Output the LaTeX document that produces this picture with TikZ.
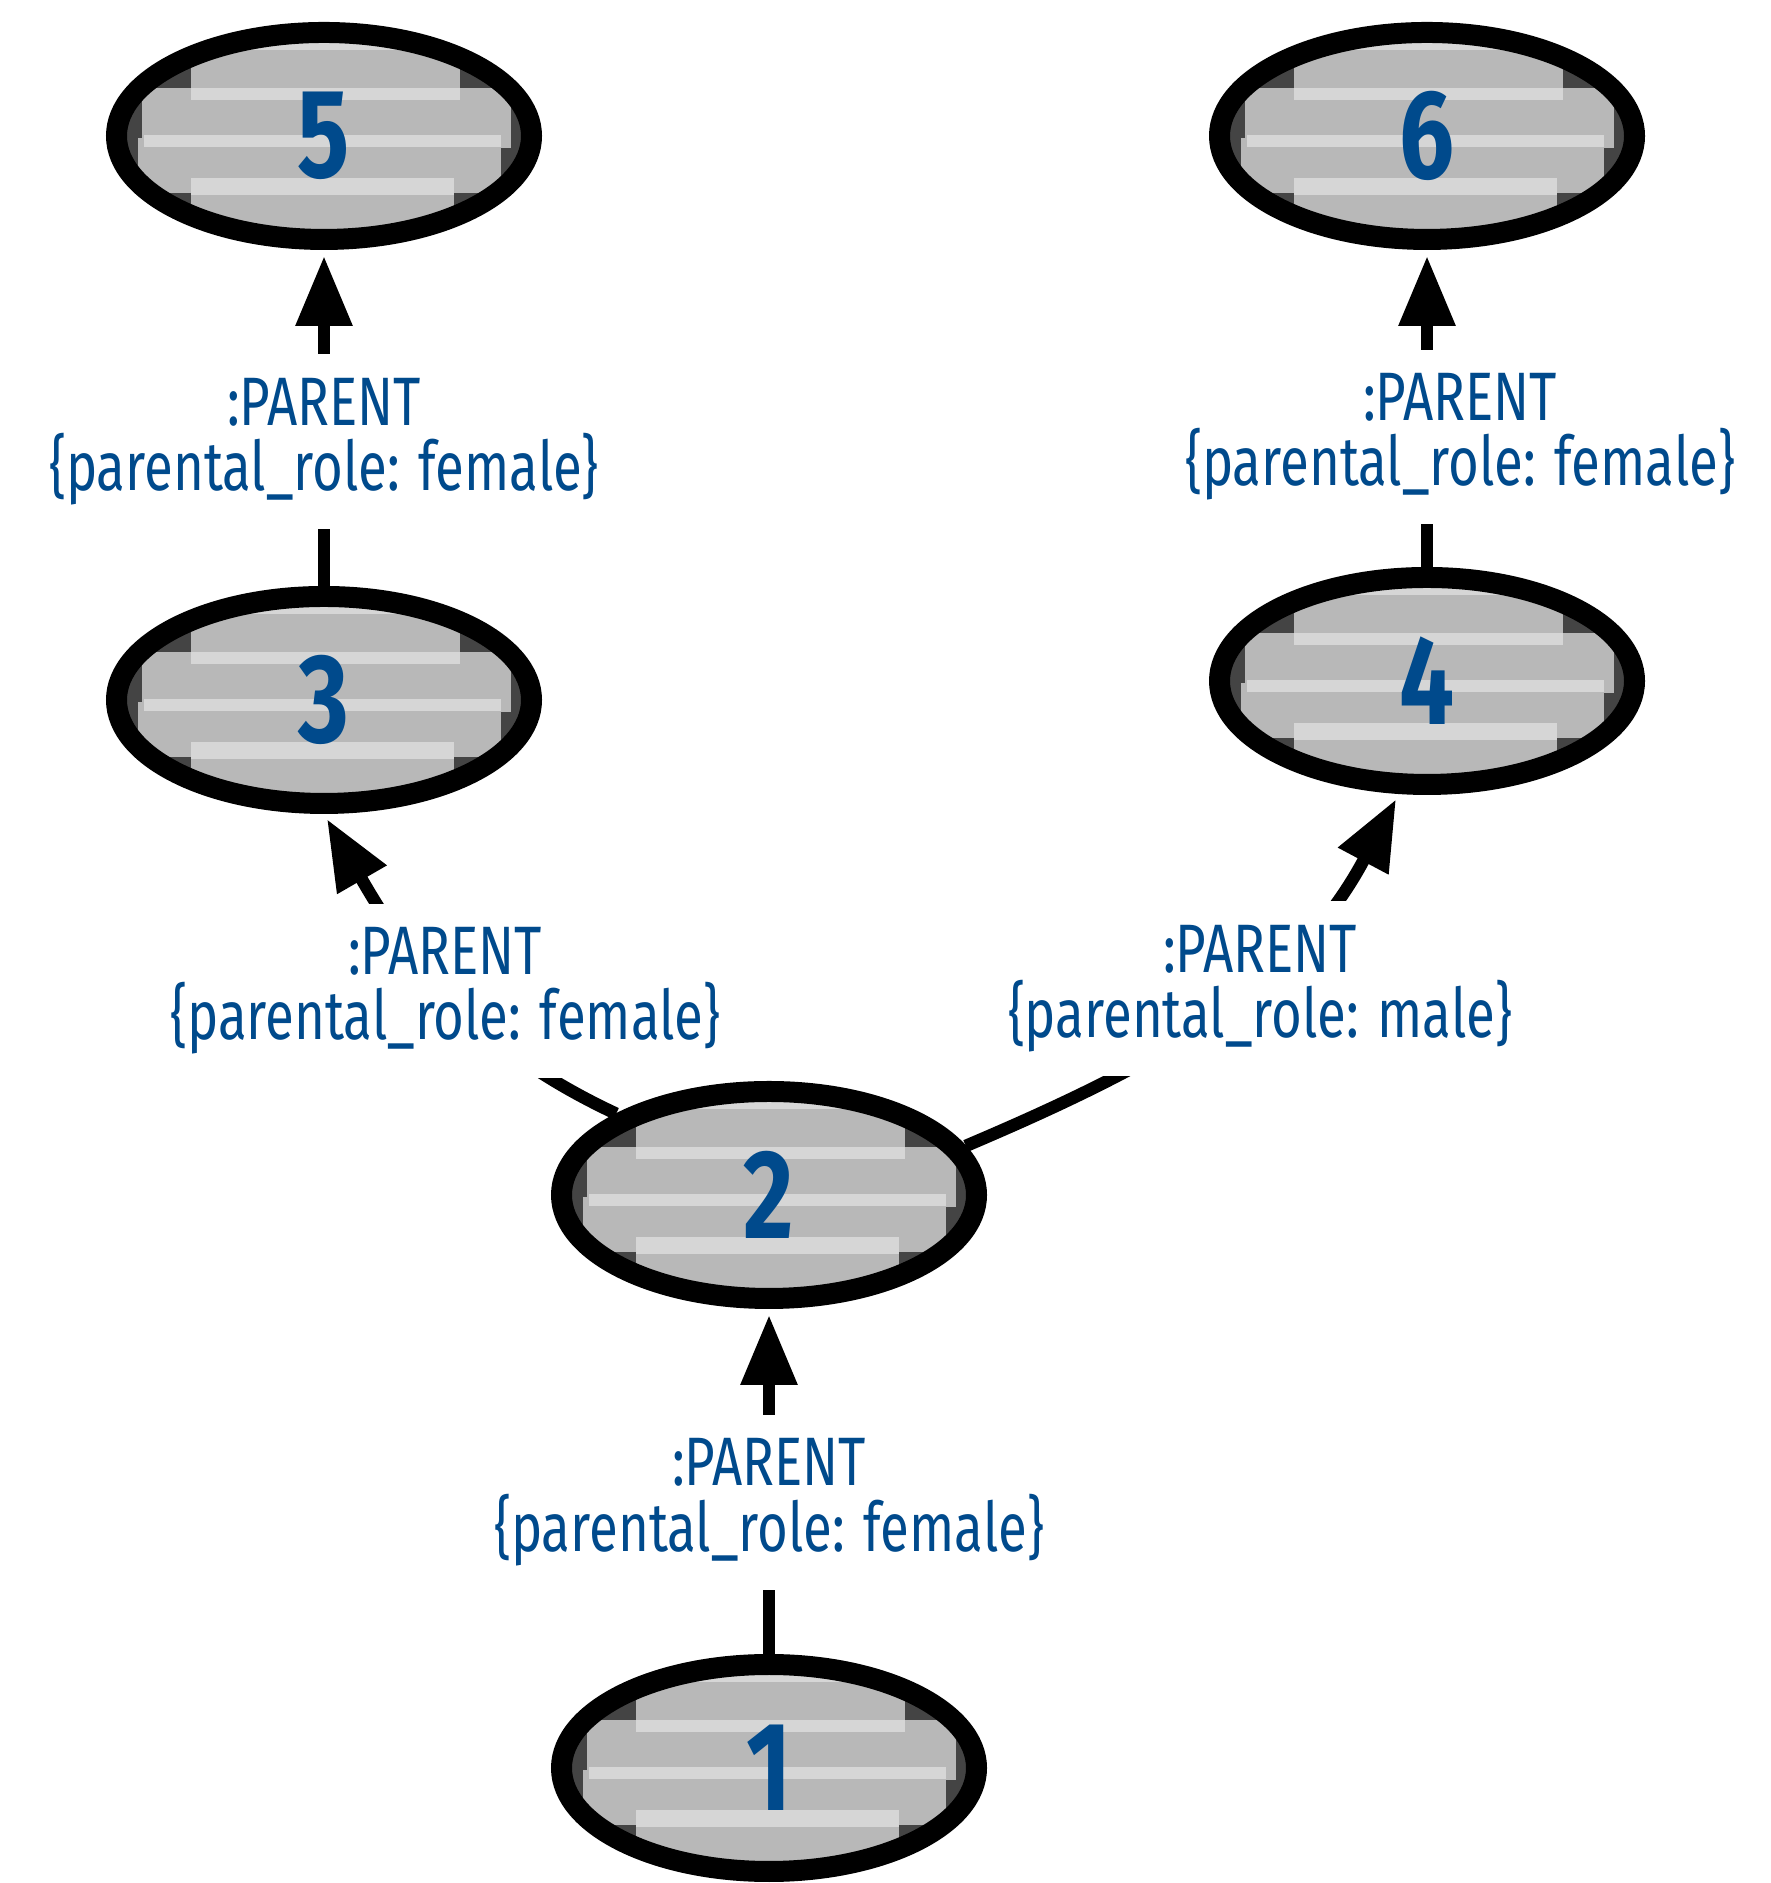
\documentclass[tikz,border=0pt]{standalone}
\usepackage{fontspec}
\setmainfont{Fira Sans}[FakeStretch=0.77]
\usetikzlibrary{shapes.geometric,arrows.meta,positioning,backgrounds}
\definecolor{nodeblue}{RGB}{0,74,140}
\definecolor{nodegray}{RGB}{184,184,184}
\definecolor{nodelight}{RGB}{214,214,214}
\definecolor{nodedark}{RGB}{68,68,68}

\begin{document}
\begin{tikzpicture}[on grid,
  main/.style = {draw, ellipse, line width=0.21cm, minimum width=4.15cm, minimum height=2.07cm,
    inner sep=0pt, text=nodeblue, font=\fontsize{36}{36}\selectfont\bfseries},
  rel/.style = {line width=0.125cm, -{Triangle[length=0.7cm,width=0.54cm]}, shorten >=0.06cm},
  lbl/.style = {fill=white, inner sep=0.24cm, align=center, text=nodeblue,
    font=\fontsize{19.5}{18.5}\selectfont}]
\useasboundingbox (0,0) rectangle (17.70,18.83);
\node[main] (1) at (7.69,1.15) {1};
\node[main] (2) [above=5.73cm of 1] {2};
\node[main] (3) [above left=4.95cm and 4.45cm of 2] {3};
\node[main] (4) [above right=5.14cm and 6.58cm of 2] {4};
\node[main] (5) [above=5.64cm of 3] {5};
\node[main] (6) [above=5.45cm of 4] {6};
\begin{scope}[on background layer]
\foreach \n in {1,...,6} {
  \begin{scope}
    \clip (\n.center) ellipse [x radius=2.075cm, y radius=1.035cm];
    \fill[nodedark] (\n.center) ellipse [x radius=2.075cm, y radius=1.035cm];
    \begin{scope}[shift={(\n.center)}]
      \fill[nodegray] (-1.33,0.36) rectangle (1.36,1.0);
      \fill[nodegray] (-1.82,-0.12) rectangle (1.87,0.48);
      \fill[nodegray] (-1.86,-0.57) rectangle (1.77,-0.02);
      \fill[nodegray] (-1.33,-1.0) rectangle (1.30,-0.42);
      \fill[nodelight] (-1.33,0.86) rectangle (1.36,0.93);
      \fill[nodelight] (-1.33,0.36) rectangle (1.36,0.48);
      \fill[nodelight] (-1.80,-0.11) rectangle (1.77,0.01);
      \fill[nodelight] (-1.33,-0.59) rectangle (1.30,-0.42);
    \end{scope}
  \end{scope}
}
\end{scope}
\draw[rel] (1) -- node[lbl, pos=0.44] {:PARENT\\\{parental\_role: female\}} (2);
\draw[rel] (2.152) to[out=155, in=-60] node[lbl, pos=0.5] {:PARENT\\\{parental\_role: female\}} (3.south);
\draw[rel] (2.14) to[out=23, in=-118] node[lbl, pos=0.6, yshift=-0.12cm] {:PARENT\\\{parental\_role: male\}} (4.-104);
\draw[rel] (3) -- node[lbl, pos=0.43] {:PARENT\\\{parental\_role: female\}} (5);
\draw[rel] (4) -- node[lbl, pos=0.41, xshift=0.33cm] {:PARENT\\\{parental\_role: female\}} (6);
\end{tikzpicture}
\end{document}
